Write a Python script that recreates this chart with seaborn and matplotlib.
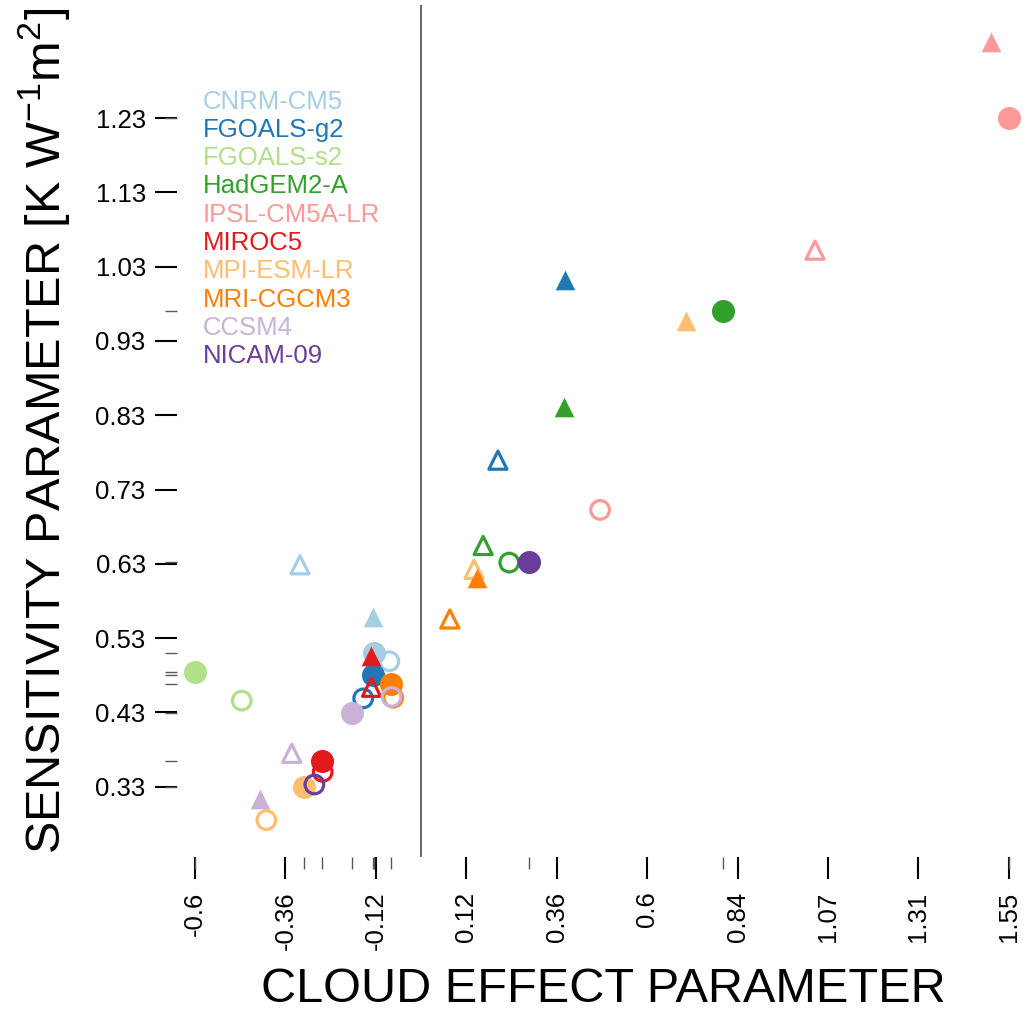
import numpy as np
import pandas as pd
import seaborn as sns
import matplotlib
matplotlib.use("Agg")
import matplotlib.pyplot as plt

# modeller ve renkler
models = ["CNRM-CM5", "FGOALS-g2", "FGOALS-s2", "HadGEM2-A", "IPSL-CM5A-LR",
          "MIROC5", "MPI-ESM-LR", "MRI-CGCM3", "CCSM4", "NICAM-09"]
colors = sns.color_palette("Paired", 10)
nan = np.nan

# dolu daire
fc_x = [-0.125, -0.127, -0.5985, 0.798, 1.5525, -0.264, -0.310, -0.081, -0.183, 0.284]
fc_y = [0.509, 0.480, 0.483, 0.970, 1.230, 0.363, 0.329, 0.468, 0.428, 0.632]
# bos daire
oc_x = [-0.085, -0.154, -0.475, 0.232, 0.472, -0.261, -0.410, -0.075, -0.079, -0.283]
oc_y = [0.498, 0.448, 0.445, 0.631, 0.702, 0.349, 0.284, 0.449, 0.450, 0.332]
# dolu ucgen
ft_x = [-0.129, 0.378, nan, 0.376, 1.504, -0.134, 0.698, 0.148, -0.427, nan]
ft_y = [0.558, 1.012, nan, 0.840, 1.332, 0.505, 0.957, 0.610, 0.313, nan]
# bos ucgen
ot_x = [-0.321, 0.202, nan, 0.163, 1.040, -0.132, 0.139, 0.075, -0.343, nan]
ot_y = [0.628, 0.769, nan, 0.654, 1.052, 0.463, 0.622, 0.555, 0.374, nan]

x_tick_labels = ["-0.6", "-0.36", "-0.12", "0.12", "0.36", "0.6", "0.84", "1.07", "1.31", "1.55"]
y_tick_labels = ["0.33", "0.43", "0.53", "0.63", "0.73", "0.83", "0.93", "1.03", "1.13", "1.23"]

sns.set_style("white")
plt.rcParams["font.family"] = ["Liberation Sans", "DejaVu Sans"]
plt.rcParams["mathtext.fontset"] = "custom"
plt.rcParams["mathtext.rm"] = "Liberation Sans"
plt.rcParams["text.color"] = "black"
plt.rcParams["axes.labelcolor"] = "black"
plt.rcParams["xtick.color"] = "black"
plt.rcParams["ytick.color"] = "black"

fig = plt.figure(figsize=(10.32, 10.22), dpi=100)
ax = fig.add_axes([177 / 1032, 165 / 1022, 853 / 1032, 852 / 1022])

ax.axvline(0, color="0.3", lw=1.2, zorder=0)

# her model icin sirayla ciz
for i, m in enumerate(models):
    c = colors[i]
    sns.scatterplot(x=[oc_x[i]], y=[oc_y[i]], marker="o", s=180, color=c,
                    facecolor="none", edgecolor=c, linewidth=2.3, ax=ax)
    sns.scatterplot(x=[fc_x[i]], y=[fc_y[i]], marker="o", s=275, color=c,
                    linewidth=0, ax=ax)
    if not np.isnan(ot_x[i]):
        sns.scatterplot(x=[ot_x[i]], y=[ot_y[i]], marker="^", s=170, color=c,
                        facecolor="none", edgecolor=c, linewidth=2.3, ax=ax)
    if not np.isnan(ft_x[i]):
        sns.scatterplot(x=[ft_x[i]], y=[ft_y[i]], marker="^", s=200, color=c,
                        linewidth=0, ax=ax)

# rug (dolu daireler)
sns.rugplot(x=fc_x, y=fc_y, height=-0.014, clip_on=False, color="0.35", lw=1.3, ax=ax)

ax.set_xlim(-0.6461, 1.6082)
ax.set_ylim(0.2343, 1.3823)

ax.set_xticks(np.linspace(min(fc_x), max(fc_x), 10))
ax.set_xticklabels(x_tick_labels, rotation=90, fontsize=18.5)
ax.set_yticks(np.linspace(min(fc_y), max(fc_y), 10))
ax.set_yticklabels(y_tick_labels, fontsize=18.5)
ax.tick_params(axis="x", length=16, width=1.5, color="black", pad=9, bottom=True)
ax.tick_params(axis="y", length=16, width=1.5, color="black", pad=6.5, left=True)
sns.despine(ax=ax, left=True, bottom=True)

ax.set_xlabel("CLOUD EFFECT PARAMETER", fontsize=35, labelpad=12)
ax.set_ylabel(r"SENSITIVITY PARAMETER [K W$^{\mathregular{-1}}$m$^{\mathregular{2}}$]",
              fontsize=35, labelpad=16)

# legend yazilari
for i, m in enumerate(models):
    ax.text(0.0305, 0.8865 - i * 0.03317, m, color=colors[i], fontsize=18.5,
            transform=ax.transAxes, va="center", ha="left")

fig.savefig("out.png", dpi=100)
